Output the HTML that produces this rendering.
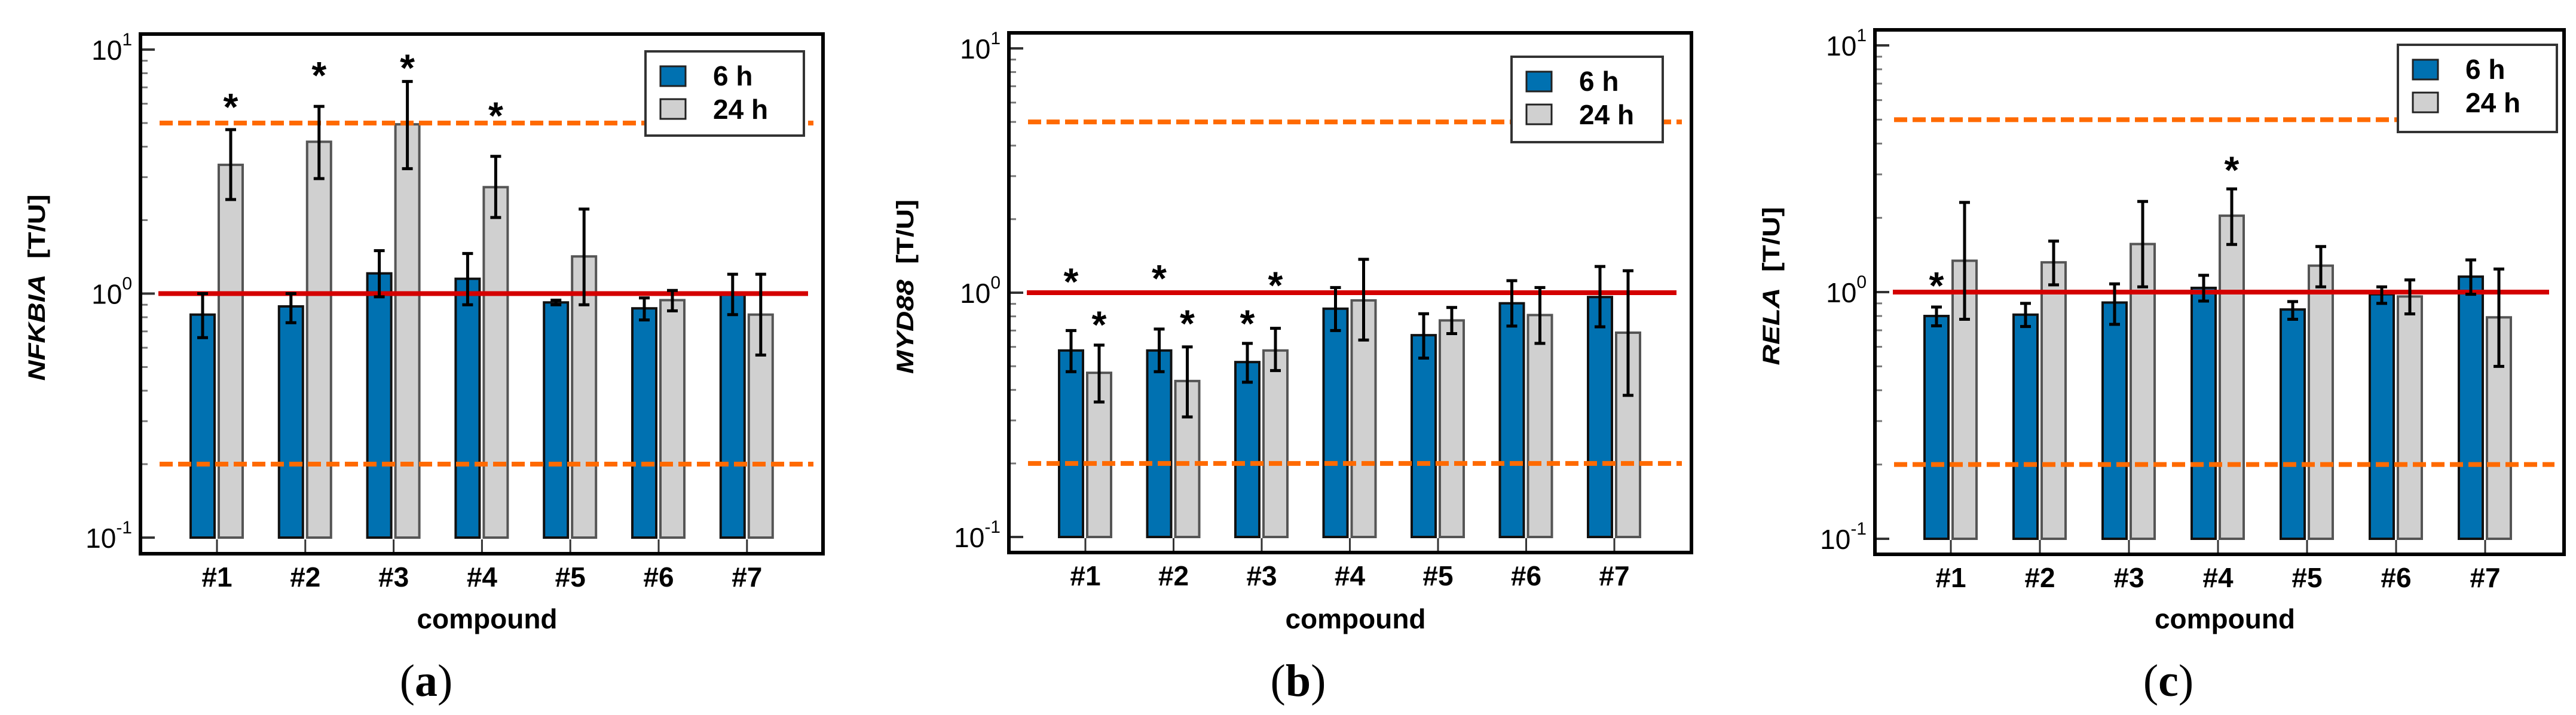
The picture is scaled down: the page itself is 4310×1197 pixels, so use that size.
<!DOCTYPE html>
<html><head><meta charset="utf-8"><style>
html,body{margin:0;padding:0;background:#fff;}
svg{display:block;}
text{font-family:"Liberation Sans",Arial,sans-serif;}
</style></head>
<body>
<svg id="fig" width="4310" height="1197" viewBox="0 0 4310 1197" xmlns="http://www.w3.org/2000/svg"></svg>
<script>
// ---- data ----
const categories = ["#1","#2","#3","#4","#5","#6","#7"];
const seriesNames = ["6 h","24 h"];
const genes = ["NFKBIA","MYD88","RELA"];
const panelLetters = ["a","b","c"];
const yTickExps = [1,0,-1];
const refLine = 1;
const thresholds = [5,0.2];

const aMean6 = [0.82,0.886,1.21,1.15,0.92,0.87,1.0];
const aHi6   = [1.0,1.0,1.5,1.46,0.94,0.96,1.2];
const aLo6   = [0.66,0.76,0.97,0.9,0.9,0.78,0.82];
const aMean24= [3.37,4.19,4.94,2.73,1.42,0.94,0.82];
const aHi24  = [4.7,5.85,7.4,3.65,2.22,1.03,1.2];
const aLo24  = [2.43,2.96,3.25,2.05,0.9,0.85,0.56];
const aStars = [[0,1,6.3],[1,1,8.5],[2,1,9.1],[3,1,5.8]];

const bMean6 = [0.58,0.58,0.52,0.86,0.67,0.905,0.96];
const bHi6   = [0.70,0.71,0.62,1.05,0.82,1.12,1.28];
const bLo6   = [0.475,0.475,0.43,0.70,0.54,0.73,0.725];
const bMean24= [0.47,0.435,0.58,0.93,0.77,0.81,0.686];
const bHi24  = [0.61,0.60,0.715,1.37,0.87,1.05,1.23];
const bLo24  = [0.357,0.31,0.48,0.64,0.68,0.62,0.38];
const bStars = [[0,0,1.2],[0,1,0.8],[1,0,1.24],[1,1,0.81],[2,0,0.81],[2,1,1.16]];

const cMean6 = [0.80,0.81,0.907,1.04,0.85,0.98,1.155];
const cHi6   = [0.87,0.90,1.08,1.17,0.915,1.05,1.35];
const cLo6   = [0.73,0.725,0.74,0.92,0.776,0.90,0.98];
const cMean24= [1.34,1.32,1.566,2.04,1.28,0.96,0.79];
const cHi24  = [2.31,1.61,2.33,2.62,1.53,1.12,1.24];
const cLo24  = [0.776,1.07,1.05,1.56,1.05,0.816,0.50];
const cStars = [[0,0,1.15],[3,1,3.38]];

// ---- layout (pixels) ----
const layouts = [
  {L:235,T:57,R:1377,B:927,y10:83,y01:900,c0:363,step:147.8,lx:1080,ly:86,lw:265,lh:141,tx:60,tlen:312,lab:713},
  {L:1688,T:55,R:2830,B:925,y10:81,y01:899,c0:1816,step:147.5,lx:2529,ly:95,lw:253,lh:143,tx:1513,tlen:292,lab:2172},
  {L:3137,T:50,R:4290,B:928,y10:76,y01:902,c0:3264,step:149,lx:4012,ly:75,lw:266,lh:146,tx:2962,tlen:265,lab:3628}
];
const panelData = [
  [aMean6,aHi6,aLo6,aMean24,aHi24,aLo24,aStars],
  [bMean6,bHi6,bLo6,bMean24,bHi24,bLo24,bStars],
  [cMean6,cHi6,cLo6,cMean24,cHi24,cLo24,cStars]
];

const NS="http://www.w3.org/2000/svg";
const svg=document.getElementById('fig');
function mk(tag,attrs,parent,txt){const e=document.createElementNS(NS,tag);for(const k in attrs)e.setAttribute(k,attrs[k]);if(txt!==undefined)e.textContent=txt;(parent||svg).appendChild(e);return e;}

panelLetters.forEach((letter,p)=>{
  const Lo=layouts[p];const D=panelData[p];
  const g=mk('g',{});
  
  
  const dec=(Lo.y01-Lo.y10)/2;
  const y0=(Lo.y01+Lo.y10)/2;
  const ys=v=>y0-Math.log10(v)*dec;
  const xs=i=>Lo.c0+i*Lo.step;
  // minor ticks
  for(let e=-1;e<1;e++){for(let m=2;m<10;m++){const t=mk('line',{x1:Lo.L,x2:Lo.L+12,y1:ys(m*Math.pow(10,e)),y2:ys(m*Math.pow(10,e)),stroke:'#777','stroke-width':3},g);
    }}
  yTickExps.forEach(ex=>{
    const yy=ys(Math.pow(10,ex));
    const t=mk('line',{x1:Lo.L,x2:Lo.L+24,y1:yy,y2:yy,stroke:'#333','stroke-width':4},g);
    
    const lbl=mk('text',{x:Lo.L-14,y:yy+17,'font-size':46,'text-anchor':'end',fill:'#000'},g);
    
    const t1=mk('tspan',{},lbl,'10');
    const t2=mk('tspan',{dy:-24,'font-size':30},lbl,String(ex));
  });
  // bars
  const width=40;
  [0,1].forEach(s=>{
    const mean=D[s*3],hi=D[s*3+1],lo=D[s*3+2];
    mean.forEach((v,i)=>{
      const x=s===0?xs(i)-44:xs(i)+3;
      const yt=ys(v);
      const r=mk('rect',{x:x,y:yt,width:width,height:Lo.y01-yt,fill:s===0?'#0071b1':'#d0d0d0',stroke:s===0?'#111':'#555','stroke-width':4},g);
      
      
    });
  });
  // x ticks
  categories.forEach((c,i)=>{
    const t=mk('line',{x1:xs(i),x2:xs(i),y1:Lo.B,y2:Lo.B-24,stroke:'#333','stroke-width':3},g);
    
    const l=mk('text',{x:xs(i),y:Lo.B+55,'font-size':46,'font-weight':'bold','text-anchor':'middle'},g,c);
    
  });
  // threshold lines
  thresholds.forEach(v=>{
    const l=mk('line',{x1:Lo.L+32,x2:Lo.R-16,y1:ys(v),y2:ys(v),stroke:'#ff6a00','stroke-width':8,'stroke-dasharray':'22 9'},g);
    
  });
  const rl=mk('line',{x1:Lo.L+30,x2:Lo.R-25,y1:ys(refLine),y2:ys(refLine),stroke:'#d40000','stroke-width':8},g);
  
  // error bars
  [0,1].forEach(s=>{
    const hi=D[s*3+1],lo=D[s*3+2];
    hi.forEach((h,i)=>{
      const cx=s===0?xs(i)-24:xs(i)+23;
      const e=mk('path',{d:`M${cx},${ys(h)}V${ys(lo[i])}M${cx-9},${ys(h)}H${cx+9}M${cx-9},${ys(lo[i])}H${cx+9}`,stroke:'#000','stroke-width':5,fill:'none'},g);
      
    });
  });
  // stars
  D[6].forEach(st=>{
    const cx=st[1]===0?xs(st[0])-24:xs(st[0])+23;
    const t=mk('text',{x:cx,y:ys(st[2])+36,'font-size':64,'font-weight':'bold','text-anchor':'middle'},g,'*');
    
  });
  // frame
  const f=mk('rect',{x:Lo.L,y:Lo.T,width:Lo.R-Lo.L,height:Lo.B-Lo.T,fill:'none',stroke:'#000','stroke-width':6},g);
  
  // legend
  const lg=mk('g',{},g);
  
  mk('rect',{x:Lo.lx,y:Lo.ly,width:Lo.lw,height:Lo.lh,fill:'#fff',stroke:'#333','stroke-width':4},lg);
  seriesNames.forEach((n,k)=>{
    const sw=mk('rect',{x:Lo.lx+25,y:Lo.ly+25+k*55,width:42,height:33,fill:k===0?'#0071b1':'#d0d0d0',stroke:'#222','stroke-width':3},lg);
    
    const tt=mk('text',{x:Lo.lx+113,y:Lo.ly+57+k*56,'font-size':46,'font-weight':'bold'},lg,n);
    
  });
  // axis titles
  const cxm=(Lo.L+Lo.R)/2+9;
  const xt=mk('text',{x:cxm,y:1052,'font-size':46,'font-weight':'bold','text-anchor':'middle'},g,'compound');
  
  const cy=(Lo.y10+Lo.y01)/2-10;
  const yt=mk('text',{x:0,y:0,'font-size':40,'font-weight':'bold','text-anchor':'middle',transform:`translate(${Lo.tx+15},${cy}) rotate(-90)`,textLength:Lo.tlen,lengthAdjust:'spacingAndGlyphs'},g);
  
  mk('tspan',{'font-style':'italic'},yt,genes[p]);
  mk('tspan',{},yt,'\u00a0 [T/U]');
  // panel label
  const pl=mk('text',{x:Lo.lab,y:1165,'font-size':76,'text-anchor':'middle','font-family':'"Liberation Serif",serif'},g);
  pl.setAttribute('style','font-family:"Liberation Serif",serif');
  
  mk('tspan',{},pl,'(');mk('tspan',{'font-weight':'bold'},pl,letter);mk('tspan',{},pl,')');
});
</script>
</body></html>
